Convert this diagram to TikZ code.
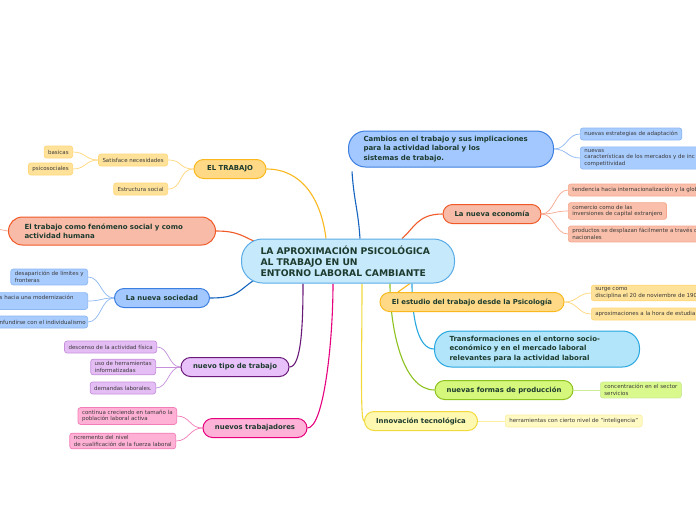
\documentclass[tikz,border=0pt]{standalone}
\usepackage{fontspec}
\setmainfont{DejaVu Sans}
\usepackage{tikz}
\usetikzlibrary{positioning, backgrounds}
\definecolor{headtext}{HTML}{1D3B2E}
\definecolor{leaftext}{HTML}{3A3A3A}
\definecolor{rootfill}{HTML}{C6E9FB}
\definecolor{rootdraw}{HTML}{5AACE6}
\definecolor{goldline}{HTML}{F9B91E}
\definecolor{goldfill}{HTML}{FFD986}
\definecolor{goldleaf}{HTML}{FFE29A}
\definecolor{goldtwig}{HTML}{FFD778}
\definecolor{redline}{HTML}{F05A28}
\definecolor{redfill}{HTML}{F8BBA8}
\definecolor{redleaf}{HTML}{F9BFAA}
\definecolor{redtwig}{HTML}{F7A78E}
\definecolor{blueline}{HTML}{1565C0}
\definecolor{bluedraw}{HTML}{3D7FE0}
\definecolor{bluefill}{HTML}{A3C8FF}
\definecolor{blueleaf}{HTML}{A9CCFF}
\definecolor{bluetwig}{HTML}{8DB8F2}
\definecolor{purpleline}{HTML}{6A1B7A}
\definecolor{purplefill}{HTML}{E8C0FA}
\definecolor{purpleleaf}{HTML}{E5BDF5}
\definecolor{purpletwig}{HTML}{C690DC}
\definecolor{pinkline}{HTML}{E6007E}
\definecolor{pinkfill}{HTML}{FFB2D8}
\definecolor{pinkleaf}{HTML}{FFB0D5}
\definecolor{pinktwig}{HTML}{F27DB8}
\definecolor{cyanline}{HTML}{29A8E0}
\definecolor{cyanfill}{HTML}{B2E4FA}
\definecolor{greenline}{HTML}{8DC21F}
\definecolor{greenfill}{HTML}{D5F77C}
\definecolor{greenleaf}{HTML}{DAF98C}
\definecolor{greentwig}{HTML}{CDEB98}
\definecolor{yellowline}{HTML}{F2DA3C}
\definecolor{yellowfill}{HTML}{FFF8B0}
\definecolor{yellowleaf}{HTML}{FFF9C4}
\definecolor{yellowtwig}{HTML}{FBEFA0}

\tikzset{
    rootbox/.style={draw=rootdraw, fill=rootfill, line width=1pt, rounded corners=21pt,
        text width=175pt, inner xsep=19pt, minimum height=44pt, align=left,
        font=\bfseries\fontsize{9.2}{11}\selectfont, text=headtext},
    topicbox/.style={draw, line width=1pt, rounded corners=9.5pt, minimum height=19pt,
        inner xsep=6pt, font=\bfseries\fontsize{6.9}{8}\selectfont, text=headtext},
    bigbox/.style={draw, line width=1pt, rounded corners=17pt, minimum height=36pt,
        text width=175pt, inner xsep=15pt, align=left,
        font=\bfseries\fontsize{7}{9.3}\selectfont, text=headtext},
    leafbox/.style={draw, line width=0.7pt, rounded corners=2.5pt, align=left,
        inner xsep=4pt, inner ysep=2.4pt, minimum height=12pt,
        font=\fontsize{5.5}{6.6}\selectfont, text=leaftext},
    branch/.style={line width=1.1pt},
    twig/.style={line width=0.7pt}
}

\begin{document}
\begin{tikzpicture}[x=1pt, y=-1pt]
    \clip (0,0) rectangle (696,520);

    \node[rootbox] (root) at (348,261) {LA APROXIMACIÓN PSICOLÓGICA\\AL TRABAJO EN UN\\ENTORNO LABORAL CAMBIANTE};

    % left side
    \node[topicbox, draw=goldline, fill=goldfill, minimum width=72pt] (trabajo) at (230,169) {EL TRABAJO};
    \node[leafbox, draw=goldtwig, fill=goldleaf, anchor=east] (satisface) at (168,160) {Satisface necesidades};
    \node[leafbox, draw=goldtwig, fill=goldleaf, anchor=east] (basicas) at (73,152) {basicas};
    \node[leafbox, draw=goldtwig, fill=goldleaf, anchor=east] (psico) at (73,169) {psicosociales};
    \node[leafbox, draw=goldtwig, fill=goldleaf, anchor=east] (estructura) at (168,189) {Estructura social};

    \node[bigbox, draw=redline, fill=redfill, minimum height=28pt, rounded corners=14pt,
          inner xsep=16pt] (fenomeno) at (112,231) {El trabajo como fenómeno social y como\\actividad humana};
    \coordinate (fenstub) at (-3,229);

    \node[topicbox, draw=bluedraw, fill=bluefill, minimum width=95pt] (sociedad) at (162,298) {La nueva sociedad};
    \node[leafbox, draw=bluetwig, fill=blueleaf, anchor=east] (limites) at (88,277) {desaparición de límites y\\fronteras};
    \node[leafbox, draw=bluetwig, fill=blueleaf, anchor=east, text width=84pt] (moderno) at (88,301) {s hacia una modernización\\[1pt]~};
    \node[leafbox, draw=bluetwig, fill=blueleaf, anchor=east, text width=84pt] (individuo) at (88,322) {\mbox{nfundirse con el individualismo}};

    \node[topicbox, draw=purpleline, fill=purplefill, minimum width=108pt] (tipo) at (235,367) {nuevo tipo de trabajo};
    \node[leafbox, draw=purpletwig, fill=purpleleaf, anchor=east] (descenso) at (157,347) {descenso de la actividad física};
    \node[leafbox, draw=purpletwig, fill=purpleleaf, anchor=east] (herramientas) at (156,367) {uso de herramientas\\informatizadas};
    \node[leafbox, draw=purpletwig, fill=purpleleaf, anchor=east] (demandas) at (156,388) {demandas laborales.};

    \node[topicbox, draw=pinkline, fill=pinkfill, minimum width=104pt] (trabajadores) at (255,428) {nuevos trabajadores};
    \node[leafbox, draw=pinktwig, fill=pinkleaf, anchor=east] (creciendo) at (177,416) {continua creciendo en tamaño la\\población laboral activa};
    \node[leafbox, draw=pinktwig, fill=pinkleaf, anchor=east] (incremento) at (176,441) {ncremento del nivel\\de cualificación de la fuerza laboral};

    % right side
    \node[bigbox, draw=bluedraw, fill=bluefill] (cambios) at (451,149) {Cambios en el trabajo y sus implicaciones\\para la actividad laboral y los\\sistemas de trabajo.};
    \node[leafbox, draw=bluetwig, fill=blueleaf, anchor=west] (estrategias) at (580,134) {nuevas estrategias de adaptación};
    \node[leafbox, draw=bluetwig, fill=blueleaf, anchor=west] (mercados) at (580,158) {nuevas\\características de los mercados y de inc\\competitividad};

    \node[topicbox, draw=redline, fill=redfill, minimum width=98pt] (economia) at (492,214) {La nueva economía};
    \node[leafbox, draw=redtwig, fill=redleaf, anchor=west] (tendencia) at (568,190) {tendencia hacia internacionalización y la glob};
    \node[leafbox, draw=redtwig, fill=redleaf, anchor=west] (comercio) at (568,211) {comercio como de las\\ inversiones de capital extranjero};
    \node[leafbox, draw=redtwig, fill=redleaf, anchor=west] (productos) at (568,234) {productos se desplazan fácilmente a través c\\nacionales};

    \node[topicbox, draw=goldline, fill=goldfill, minimum width=184pt] (estudio) at (472,302) {El estudio del trabajo desde la Psicología};
    \node[leafbox, draw=goldtwig, fill=goldleaf, anchor=west] (surge) at (591,293) {surge como\\disciplina el 20 de noviembre de 190};
    \node[leafbox, draw=goldtwig, fill=goldleaf, anchor=west] (aproximaciones) at (591,314) {aproximaciones a la hora de estudia};

    \node[bigbox, draw=cyanline, fill=cyanfill] (transformaciones) at (537,349) {Transformaciones en el entorno socio-\\económico y en el mercado laboral\\relevantes para la actividad laboral};

    \node[topicbox, draw=greenline, fill=greenfill, minimum width=138pt] (produccion) at (504,390) {nuevas formas de producción};
    \node[leafbox, draw=greentwig, fill=greenleaf, anchor=west] (servicios) at (600,390) {concentración en el sector\\servicios};

    \node[topicbox, draw=yellowline, fill=yellowfill, minimum width=113pt] (innovacion) at (421,421) {Innovación tecnológica};
    \node[leafbox, draw=yellowtwig, fill=yellowleaf, anchor=west] (inteligencia) at (505,421) {herramientas con cierto nivel de "inteligencia"};

    \begin{scope}[on background layer]
        \fill[white] (0,0) rectangle (696,520);
        \draw[branch, goldline] (trabajo.east) .. controls +(35,0) and +(-5,-40) .. ([xshift=-22pt]root.north);
        \draw[branch, redline] (fenomeno.east) .. controls +(22,0) and +(-14,-6) .. ([xshift=16pt, yshift=-4pt]root.north west);
        \draw[branch, blueline] (sociedad.east) .. controls +(28,0) and +(-18,12) .. ([xshift=14pt, yshift=4pt]root.south west);
        \draw[branch, purpleline] (tipo.east) .. controls +(12,0) and +(0,40) .. ([xshift=-45pt]root.south);
        \draw[branch, pinkline] (trabajadores.east) .. controls +(16,0) and +(0,60) .. ([xshift=-15pt]root.south);
        \draw[branch, yellowline] (innovacion.west) .. controls +(-4,0) and +(0,70) .. ([xshift=14pt]root.south);
        \draw[branch, greenline] (produccion.west) .. controls +(-32,0) and +(0,45) .. ([xshift=42pt]root.south);
        \draw[branch, cyanline] (transformaciones.west) .. controls +(-16,0) and +(0,35) .. ([xshift=64pt]root.south);
        \draw[branch, goldline] ([xshift=-74pt]estudio.north) -- ([xshift=62pt]root.south);
        \draw[branch, redline] (economia.west) .. controls +(-25,0) and +(12,-10) .. ([xshift=54pt]root.north);
        \draw[branch, blueline] ([xshift=4pt, yshift=-4pt]cambios.south west) .. controls +(2,30) and +(-2,-30) .. ([xshift=12pt]root.north);
        \draw[twig, redtwig] (fenomeno.west) -- (fenstub);

        \draw[twig, goldtwig] (trabajo.west) .. controls +(-15,0) and +(15,0) .. (satisface.east);
        \draw[twig, goldtwig] (trabajo.west) .. controls +(-15,0) and +(15,0) .. (estructura.east);
        \draw[twig, goldtwig] (satisface.west) .. controls +(-13,0) and +(13,0) .. (basicas.east);
        \draw[twig, goldtwig] (satisface.west) .. controls +(-13,0) and +(13,0) .. (psico.east);
        \draw[twig, bluetwig] (sociedad.west) .. controls +(-13,0) and +(13,0) .. (limites.east);
        \draw[twig, bluetwig] (sociedad.west) .. controls +(-13,0) and +(13,0) .. (moderno.east);
        \draw[twig, bluetwig] (sociedad.west) .. controls +(-13,0) and +(13,0) .. (individuo.east);
        \draw[twig, purpletwig] (tipo.west) .. controls +(-12,0) and +(12,0) .. (descenso.east);
        \draw[twig, purpletwig] (tipo.west) .. controls +(-12,0) and +(12,0) .. (herramientas.east);
        \draw[twig, purpletwig] (tipo.west) .. controls +(-12,0) and +(12,0) .. (demandas.east);
        \draw[twig, pinktwig] (trabajadores.west) .. controls +(-13,0) and +(13,0) .. (creciendo.east);
        \draw[twig, pinktwig] (trabajadores.west) .. controls +(-13,0) and +(13,0) .. (incremento.east);
        \draw[twig, bluetwig] (cambios.east) .. controls +(13,0) and +(-13,0) .. (estrategias.west);
        \draw[twig, bluetwig] (cambios.east) .. controls +(13,0) and +(-13,0) .. (mercados.west);
        \draw[twig, redtwig] (economia.east) .. controls +(13,0) and +(-13,0) .. (tendencia.west);
        \draw[twig, redtwig] (economia.east) .. controls +(13,0) and +(-13,0) .. (comercio.west);
        \draw[twig, redtwig] (economia.east) .. controls +(13,0) and +(-13,0) .. (productos.west);
        \draw[twig, goldtwig] (estudio.east) .. controls +(13,0) and +(-13,0) .. (surge.west);
        \draw[twig, goldtwig] (estudio.east) .. controls +(13,0) and +(-13,0) .. (aproximaciones.west);
        \draw[twig, greentwig] (produccion.east) -- (servicios.west);
        \draw[twig, yellowtwig] (innovacion.east) -- (inteligencia.west);
    \end{scope}
\end{tikzpicture}
\end{document}
